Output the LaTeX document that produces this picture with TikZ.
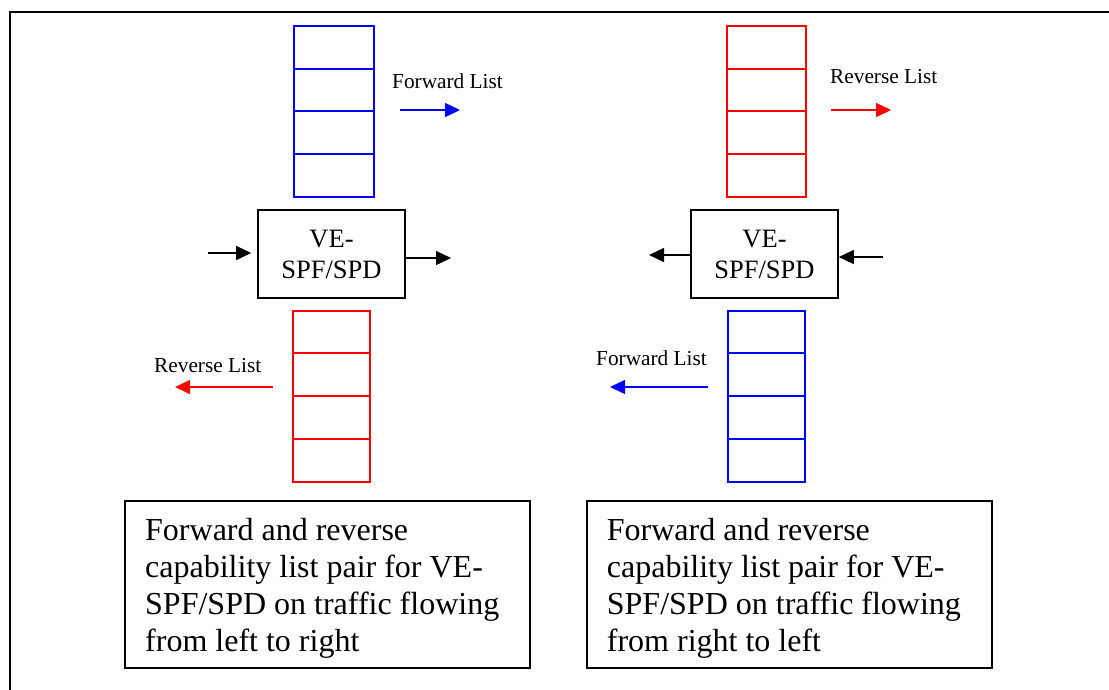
\documentclass[tikz,border=0pt]{standalone}
\usepackage{fontspec}
\setmainfont{Liberation Serif}
\usetikzlibrary{arrows.meta}
\begin{document}
\begin{tikzpicture}[x=1pt,y=-1pt,
  frameline/.style={draw=black, line width=1.7pt},
  cellbox/.style 2 args={draw=#1, line width=1.5pt, minimum width=#2,
    inner sep=0pt, outer sep=0pt, anchor=north west},
  listlabel/.style={font=\fontsize{21.3}{25}\selectfont, inner sep=0pt, anchor=base west},
  listarrow/.style={draw=#1, line width=1.4pt, -{Triangle[length=15pt,width=14pt]}},
  flowarrow/.style={draw=black, line width=1.4pt, -{Triangle[length=15pt,width=14pt]}},
  vebox/.style={draw=black, line width=1.6pt, minimum width=147pt, minimum height=88pt,
    inner sep=0pt, align=center, font=\fontsize{26.5}{31}\selectfont},
  capbox/.style={draw=black, line width=1.6pt, minimum width=#1, minimum height=167pt,
    inner sep=0pt, anchor=north west},
  captext/.style={font=\fontsize{32}{37}\selectfont, align=left, inner sep=0pt, anchor=north west}]

\useasboundingbox (0,0) rectangle (1109,689);
\clip (0,0) rectangle (1109,689);

% outer frame (runs past the right and bottom edges)
\draw[frameline] (10,700) -- (10,12) -- (1120,12);

% ---------- left half: traffic flowing from left to right ----------
\foreach \t/\h [count=\i] in {26/43,69/42,111/43,154/43}
  \node[cellbox={blue}{80pt}, minimum height=\h pt] (fl\i) at (294,\t) {};
\node[listlabel] (flab1) at (392,88) {Forward List};
\coordinate (fa1s) at (400,110);
\coordinate (fa1e) at (460,110);
\draw[listarrow=blue] (fa1s) -- (fa1e);

\node[vebox] (ve1) at (331.5,254) {VE-\\SPF/SPD};
\coordinate (in1) at (208,253);
\coordinate (out1) at (451,258);
\draw[flowarrow, shorten >=6pt] (in1) -- (ve1.west |- in1);
\draw[flowarrow] (ve1.east |- out1) -- (out1);

\foreach \t/\h [count=\i] in {311/42,353/43,396/43,439/43}
  \node[cellbox={red}{77pt}, minimum height=\h pt] (rl\i) at (293,\t) {};
\node[listlabel] (rlab1) at (154,372) {Reverse List};
\coordinate (ra1s) at (273,387);
\coordinate (ra1e) at (175,387);
\draw[listarrow=red] (ra1s) -- (ra1e);

\node[capbox=405pt] (cap1) at (124,500) {};
\node[captext] (ct1) at (145,518) {Forward and reverse\\capability list pair for VE-\\SPF/SPD on traffic flowing\\from left to right};

% ---------- right half: traffic flowing from right to left ----------
\foreach \t/\h [count=\i] in {26/43,69/42,111/43,154/43}
  \node[cellbox={red}{79pt}, minimum height=\h pt] (rr\i) at (727,\t) {};
\node[listlabel] (rlab2) at (830,83) {Reverse List};
\coordinate (ra2s) at (831,110);
\coordinate (ra2e) at (891,110);
\draw[listarrow=red] (ra2s) -- (ra2e);

\node[vebox] (ve2) at (764.5,254) {VE-\\SPF/SPD};
\coordinate (out2) at (649,255);
\coordinate (in2) at (883,257);
\draw[flowarrow] (ve2.west |- out2) -- (out2);
\draw[flowarrow] (in2) -- (ve2.east |- in2);

\foreach \t/\h [count=\i] in {311/42,353/43,396/43,439/43}
  \node[cellbox={blue}{77pt}, minimum height=\h pt] (fr\i) at (728,\t) {};
\node[listlabel] (flab2) at (596,365) {Forward List};
\coordinate (fa2s) at (708,387);
\coordinate (fa2e) at (610,387);
\draw[listarrow=blue] (fa2s) -- (fa2e);

\node[capbox=405pt] (cap2) at (586,500) {};
\node[captext] (ct2) at (606.7,518) {Forward and reverse\\capability list pair for VE-\\SPF/SPD on traffic flowing\\from right to left};
\end{tikzpicture}
\end{document}
